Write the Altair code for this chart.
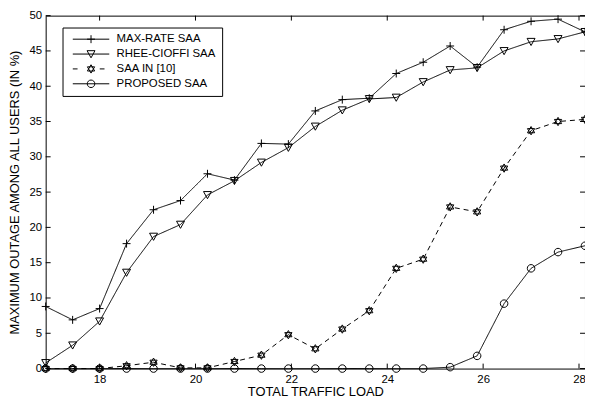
import altair as alt
import pandas as pd

# ---- data ----
x_load = [16.875, 17.4375, 18.0, 18.5625, 19.125, 19.6875, 20.25, 20.8125, 21.375,
          21.9375, 22.5, 23.0625, 23.625, 24.1875, 24.75, 25.3125, 25.875, 26.4375,
          27.0, 27.5625, 28.125]
series_names = ["MAX-RATE SAA", "RHEE-CIOFFI SAA", "SAA IN [10]", "PROPOSED SAA"]
max_rate = [8.8, 6.9, 8.5, 17.7, 22.5, 23.8, 27.6, 26.7, 31.9, 31.8, 36.5,
            38.1, 38.3, 41.8, 43.4, 45.7, 42.7, 48.0, 49.2, 49.5, 47.7]
rhee_cioffi = [0.8, 3.3, 6.7, 13.6, 18.7, 20.4, 24.6, 26.6, 29.2, 31.3, 34.3,
               36.6, 38.2, 38.4, 40.6, 42.3, 42.6, 45.0, 46.3, 46.7, 47.7]
saa_ref10 = [0.0, 0.0, 0.0, 0.4, 0.9, 0.1, 0.1, 1.0, 1.9, 4.8, 2.8,
             5.6, 8.2, 14.2, 15.5, 22.9, 22.2, 28.4, 33.7, 35.0, 35.3]
proposed = [0.0, 0.0, 0.0, 0.0, 0.0, 0.0, 0.0, 0.0, 0.0, 0.0, 0.0,
            0.0, 0.0, 0.0, 0.0, 0.2, 1.8, 9.2, 14.2, 16.5, 17.4]
x_ticks = [18, 20, 22, 24, 26, 28]
y_ticks = [0, 5, 10, 15, 20, 25, 30, 35, 40, 45, 50]

rows = []
for name, vals in zip(series_names, [max_rate, rhee_cioffi, saa_ref10, proposed]):
    for xv, yv in zip(x_load, vals):
        rows.append({"load": xv, "outage": yv, "series": name})
df = pd.DataFrame(rows)
df_xt = pd.DataFrame({"t": x_ticks})
df_yt = pd.DataFrame({"t": y_ticks})

W, H = 544, 356
FONT = "Liberation Sans"

marker_paths = [
    "M-1,0H1M0,-1V1",
    "M-1,-0.85L1,-0.85L0,0.95Z",
    "M0,-1.05L0.91,0.525L-0.91,0.525Z M0,1.05L0.91,-0.525L-0.91,-0.525Z",
    "M-0.95,0A0.95,0.95 0 1,1 0.95,0A0.95,0.95 0 1,1 -0.95,0Z",
]
legend_paths = [
    "M-4.6,0H4.6" + marker_paths[0],
    "M-4.6,0H4.6" + marker_paths[1],
    "M-4.6,0H-3.4M2.2,0H3.4" + marker_paths[2],
    "M-4.6,0H4.6" + marker_paths[3],
]

xscale = alt.Scale(domain=[16.875, 28.125], nice=False, zero=False)
yscale = alt.Scale(domain=[0, 50], nice=False)

x_axis = alt.Axis(values=x_ticks, title="TOTAL TRAFFIC LOAD", labelPadding=5,
                  titlePadding=1, labelOverlap=False)
y_axis = alt.Axis(values=y_ticks, title="MAXIMUM OUTAGE AMONG ALL USERS (IN %)",
                  labelPadding=4, titlePadding=8, labelOverlap=False)

lines = alt.Chart(df).mark_line(color="black", strokeWidth=1).encode(
    x=alt.X("load:Q", scale=xscale, axis=x_axis),
    y=alt.Y("outage:Q", scale=yscale, axis=y_axis),
    detail="series:N",
    strokeDash=alt.StrokeDash("series:N", scale=alt.Scale(domain=series_names,
                              range=[[1, 0], [1, 0], [5, 4], [1, 0]]), legend=None),
)

points = alt.Chart(df).mark_point(color="black", filled=False, strokeWidth=1, size=64, opacity=1).encode(
    x=alt.X("load:Q", scale=xscale, axis=x_axis),
    y=alt.Y("outage:Q", scale=yscale, axis=y_axis),
    shape=alt.Shape("series:N", scale=alt.Scale(domain=series_names, range=marker_paths),
                    legend=None),
)

legend_layer = alt.Chart(df).mark_point(color="black", filled=False, strokeWidth=1, size=64, opacity=0).encode(
    x=alt.X("load:Q", scale=xscale, axis=x_axis),
    y=alt.Y("outage:Q", scale=yscale, axis=y_axis),
    shape=alt.Shape("series:N", scale=alt.Scale(domain=series_names, range=legend_paths),
                    legend=alt.Legend(title=None, orient="none", legendX=17, legendY=12,
                                      fillColor="white", strokeColor="black", padding=6,
                                      labelFont=FONT, labelFontSize=11.5, labelColor="black",
                                      symbolSize=64, symbolStrokeColor="black",
                                      symbolStrokeWidth=1, symbolFillColor="transparent",
                                      symbolOpacity=1,
                                      symbolOffset=17, labelOffset=20)),
)

tick_bottom = alt.Chart(df_xt).mark_rule(color="black", strokeWidth=1).encode(
    x=alt.X("t:Q", scale=xscale, axis=x_axis), y=alt.value(H), y2=alt.value(H - 5))
tick_top = alt.Chart(df_xt).mark_rule(color="black", strokeWidth=1).encode(
    x=alt.X("t:Q", scale=xscale, axis=x_axis), y=alt.value(0), y2=alt.value(5))
tick_left = alt.Chart(df_yt).mark_rule(color="black", strokeWidth=1).encode(
    y=alt.Y("t:Q", scale=yscale, axis=y_axis), x=alt.value(0), x2=alt.value(5))
tick_right = alt.Chart(df_yt).mark_rule(color="black", strokeWidth=1).encode(
    y=alt.Y("t:Q", scale=yscale, axis=y_axis), x=alt.value(W), x2=alt.value(W - 5))

chart = alt.layer(lines, points, legend_layer, tick_bottom, tick_top, tick_left, tick_right).resolve_scale(
    shape="independent"
).resolve_legend(shape="independent").properties(
    width=W, height=H,
    autosize=alt.AutoSizeParams(type="none"),
    padding={"left": 38, "top": 6, "right": 0, "bottom": 30},
    background="white",
).configure_view(stroke="black", strokeWidth=1).configure_axis(
    labelFont=FONT, titleFont=FONT, labelFontSize=11.5, titleFontSize=13,
    labelColor="black", titleColor="black", titleFontWeight="normal",
    grid=False, ticks=False, tickSize=0, domain=False,
)

chart.save("out.html", embed_options={"renderer": "svg", "actions": False})
